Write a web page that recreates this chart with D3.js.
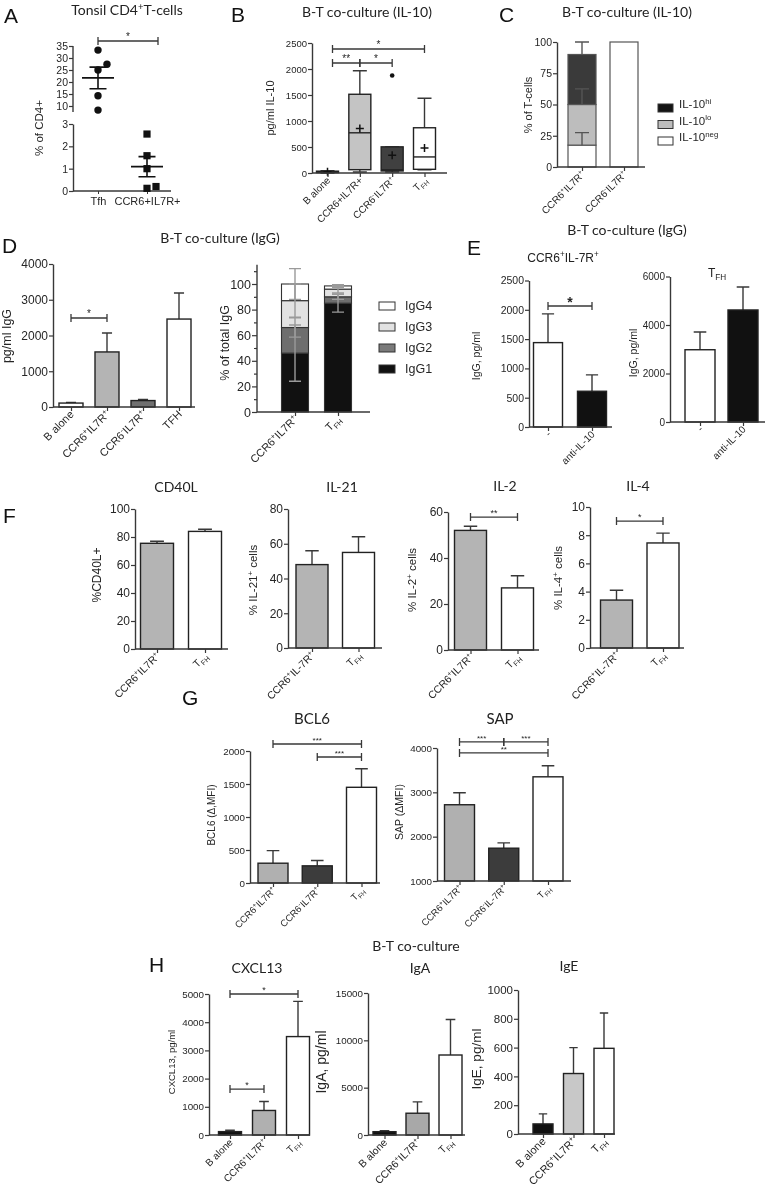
<!DOCTYPE html>
<html><head><meta charset="utf-8">
<script src="https://cdn.jsdelivr.net/npm/d3@7"></script>
<style>
body{margin:0;background:#fff}
svg{display:block;will-change:transform;-webkit-font-smoothing:antialiased}
text{fill:#262626}
</style>
</head><body>
<svg id="chart" width="765" height="1191"></svg>
<script>
// ---------------- DATA ----------------
// Panel A
const aCats = ["Tfh", "CCR6+IL7R+"];
const aTfh = [33.3, 25.0, 27.4, 14.3, 8.3];
const aCCR6 = [2.55, 1.58, 1.0, 0.12, 0.2];
const aMean = [21.7, 1.09];
const aSEM = [4.5, 0.45];
const aUpperTicks = [10, 15, 20, 25, 30, 35];
const aLowerTicks = [0, 1, 2, 3];

// Panel B (box plots, pg/ml IL-10)
const bCats = ["B alone", "CCR6+IL7R+", "CCR6-IL7R+", "TFH"];
const bLabels = ["B alone", "CCR6+IL7R+", "CCR6{^-}IL7R{^+}", "T{_FH}"];
const bMin = [0, 19, 19, 60];
const bQ1 = [8, 64, 39, 71];
const bMedian = [18, 773, 60, 309];
const bQ3 = [35, 1514, 503, 870];
const bMax = [42, 1965, 503, 1437];
const bMean = [22, 857, 341, 483];
const bOutlier = [null, null, 1875, null];
const bTicks = [0, 500, 1000, 1500, 2000, 2500];

// Panel C (stacked %)
const cCats = ["CCR6+IL7R+", "CCR6-IL7R+"];
const cLabels = ["CCR6{^+}IL7R{^+}", "CCR6{^-}IL7R{^+}"];
const cKeys = ["IL-10neg", "IL-10lo", "IL-10hi"];
const cNeg = [17.5, 100];
const cLo = [32.5, 0];
const cHi = [40, 0];
const cErrNeg = [10, 0];
const cErrLo = [12.5, 0];
const cErrHi = [10, 0];
const cTicks = [0, 25, 50, 75, 100];

// Panel D left (pg/ml IgG)
const dCats = ["B alone", "CCR6+IL7R+", "CCR6-IL7R+", "TFH"];
const dLabels = ["B alone", "CCR6{^+}IL7R{^+}", "CCR6{^-}IL7R{^+}", "TFH"];
const dIgG = [110, 1540, 180, 2460];
const dIgGErr = [20, 530, 30, 730];
const dTicks = [0, 1000, 2000, 3000, 4000];

// Panel D right (% of total IgG, stacked)
const dsCats = ["CCR6+IL7R+", "TFH"];
const dsLabels = ["CCR6{^+}IL7R{^+}", "T{_FH}"];
const dsKeys = ["IgG1", "IgG2", "IgG3", "IgG4"];
const dsIgG1 = [46, 85];
const dsIgG2 = [20, 5];
const dsIgG3 = [21, 6];
const dsIgG4 = [13, 2.5];
const dsSd1 = [22, 7];
const dsSd2 = [7.5, 2];
const dsSd3 = [13, 3];
const dsSd4 = [12, 1];

// Panel E
const eCats = ["-", "anti-IL-10"];
const eCCR6 = [1440, 610];
const eCCR6Err = [490, 280];
const eTfh = [2980, 4620];
const eTfhErr = [730, 950];

// Panel F
const fCats = ["CCR6+IL7R+", "TFH"];
const fCD40L = [75.5, 84];
const fCD40LErr = [1.5, 1.5];
const fIL21 = [48, 55];
const fIL21Err = [8, 9];
const fIL2 = [52, 27];
const fIL2Err = [1.8, 5.3];
const fIL4 = [3.4, 7.45];
const fIL4Err = [0.7, 0.7];

// Panel G
const gCats = ["CCR6+IL7R+", "CCR6-IL7R+", "TFH"];
const gBCL6 = [300, 260, 1450];
const gBCL6Err = [190, 80, 280];
const gSAP = [2720, 1740, 3350];
const gSAPErr = [270, 120, 250];

// Panel H
const hCats = ["B alone", "CCR6+IL7R+", "TFH"];
const hLabels = ["B alone", "CCR6{^+}IL7R{^+}", "T{_FH}"];
const hCXCL13 = [120, 870, 3490];
const hCXCL13Err = [50, 320, 1250];
const hIgA = [350, 2300, 8450];
const hIgAErr = [100, 1200, 3750];
const hIgE = [70, 420, 595];
const hIgEErr = [70, 180, 245];

// ---------------- HELPERS ----------------
const svg = d3.select("#chart");
const LINE = "#383838";
const SANS = "'Liberation Sans', Arial, sans-serif";
const TITLE = "Lato, 'Open Sans', sans-serif";

function rich(sel, s, fs) {
  sel.text(null);
  const parts = s.split(/(\{[\^_][^}]*\})/).filter(p => p.length);
  let cur = 0;
  parts.forEach(p => {
    const m = p.match(/^\{([\^_])(.*)\}$/);
    let off = 0, size = fs, txt = p;
    if (m) { off = m[1] === "^" ? -0.38 * fs : 0.28 * fs; size = fs * 0.68; txt = m[2]; }
    sel.append("tspan").attr("dy", off - cur).attr("font-size", size).text(txt);
    cur = off;
  });
}
function letter(x, y, s) {
  svg.append("text").attr("x", x).attr("y", y).attr("font-size", 21)
    .attr("font-family", SANS).style("fill", "#111").text(s);
}
function title(x, y, s, fs = 14, font = TITLE) {
  const t = svg.append("text").attr("x", x).attr("y", y).attr("text-anchor", "middle")
    .attr("dy", "0.35em").attr("font-family", font).attr("font-size", fs).style("fill", "#222");
  rich(t, s, fs);
}
function yLabel(x, y, s, fs) {
  const t = svg.append("text").attr("transform", `translate(${x},${y}) rotate(-90)`)
    .attr("text-anchor", "middle").attr("dy", "0.35em").attr("font-family", SANS).attr("font-size", fs);
  rich(t, s, fs);
}
function yAxis(g, y, ax, ticks, fs, opt = {}) {
  const a = g.append("g").attr("transform", `translate(${ax},0)`)
    .call(d3.axisLeft(y).tickValues(ticks).tickSize(4).tickSizeOuter(0)
      .tickFormat(opt.fmt || d3.format("d")));
  a.attr("font-family", SANS).attr("font-size", fs);
  a.select(".domain").attr("stroke", LINE).attr("stroke-width", 1.4);
  a.selectAll(".tick line").attr("stroke", LINE).attr("stroke-width", 1.2);
  a.selectAll(".tick text").attr("x", -5);
  return a;
}
function xAxis(g, x, ax, axEnd, y0, labels, fs) {
  g.append("line").attr("x1", ax).attr("x2", axEnd).attr("y1", y0).attr("y2", y0)
    .attr("stroke", LINE).attr("stroke-width", 1.4);
  const a = g.append("g").attr("transform", `translate(0,${y0})`)
    .call(d3.axisBottom(x).tickSize(4).tickSizeOuter(0));
  a.attr("font-family", SANS).attr("font-size", fs);
  a.select(".domain").remove();
  a.selectAll(".tick line").attr("stroke", LINE).attr("stroke-width", 1.2);
  a.selectAll(".tick text").each(function (d, i) { rich(d3.select(this), labels[i], fs); })
    .attr("y", 0).attr("dy", "0.35em").attr("text-anchor", "end")
    .attr("transform", "translate(3,8) rotate(-45)");
  return a;
}
function sig(g, x1, x2, yp, txt, fs = 10, bold = false) {
  g.append("path").attr("d", `M${x1},${yp - 4}V${yp + 4}M${x1},${yp}H${x2}M${x2},${yp - 4}V${yp + 4}`)
    .attr("stroke", LINE).attr("stroke-width", 1.3).attr("fill", "none");
  g.append("text").attr("x", (x1 + x2) / 2).attr("y", yp - 1 + (bold ? 2 : 0)).attr("text-anchor", "middle")
    .attr("font-family", SANS).attr("font-size", fs).attr("font-weight", bold ? "bold" : null).text(txt);
}
function errBar(g, cx, top, end, capW, color = LINE) {
  g.append("path").attr("d", `M${cx},${top}V${end}M${cx - capW / 2},${end}H${cx + capW / 2}`)
    .attr("stroke", color).attr("stroke-width", 1.4).attr("fill", "none");
}

function barChart(o) {
  const g = svg.append("g");
  const y = d3.scaleLinear().domain(o.domain).range([o.y0, o.y1]);
  const x = d3.scalePoint().domain(o.cats).range([o.c0, o.cN]);
  const base = y(o.domain[0]);
  const capW = o.bw * 0.42;
  o.values.forEach((d, i) => errBar(g, x(o.cats[i]), y(d), y(d + o.errs[i]), capW));
  g.append("g").selectAll("rect").data(o.values).join("rect")
    .attr("x", (d, i) => x(o.cats[i]) - o.bw / 2).attr("width", o.bw)
    .attr("y", d => y(d)).attr("height", d => base - y(d))
    .attr("fill", (d, i) => o.fills[i]).attr("stroke", "#222").attr("stroke-width", 1.4);
  yAxis(g, y, o.ax, o.ticks, o.tickFs);
  xAxis(g, x, o.ax, o.axEnd, base, o.labels, o.labelFs || 10.5);
  if (o.ylab) yLabel(o.ylabX, o.ylabY, o.ylab, o.ylabFs || 11);
  (o.sigs || []).forEach(s => sig(g, x(o.cats[s[0]]), x(o.cats[s[1]]), y(s[2]), s[3], s[4] || 10, s[5]));
  return { g, x, y };
}

// ---------------- PANEL A ----------------
(function () {
  const g = svg.append("g");
  letter(4, 23, "A");
  title(127, 15, "Tonsil CD4{^+}T-cells", 14);
  const x = d3.scalePoint().domain(aCats).range([98, 147]);
  const yU = d3.scaleLinear().domain([10, 35]).range([106, 46]);
  const yL = d3.scaleLinear().domain([0, 3]).range([191, 124]);
  const scales = [yU, yL];
  const a1 = yAxis(g, yU, 73, aUpperTicks, 10.5);
  a1.select(".domain").remove();
  g.append("line").attr("x1", 73).attr("x2", 73).attr("y1", yU(35)).attr("y2", 112)
    .attr("stroke", LINE).attr("stroke-width", 1.4);
  yAxis(g, yL, 73, aLowerTicks, 10.5);
  g.append("line").attr("x1", 73).attr("x2", 171).attr("y1", 191).attr("y2", 191)
    .attr("stroke", LINE).attr("stroke-width", 1.4);
  const xa = g.append("g").attr("transform", "translate(0,191)")
    .call(d3.axisBottom(x).tickSize(3).tickSizeOuter(0));
  xa.select(".domain").remove();
  xa.attr("font-family", SANS).attr("font-size", 11);
  xa.selectAll(".tick line").attr("stroke", LINE);
  [aTfh, aCCR6].forEach((vals, gi) => {
    const ys = scales[gi];
    const placed = [];
    vals.forEach(v => {
      const py = ys(v);
      const hit = placed.some(p => p.dx === 0 && Math.abs(p.py - py) < 7);
      const dx = hit ? 9 : 0;
      placed.push({ py, dx });
      const cx = x(aCats[gi]) + dx;
      if (gi === 0) g.append("circle").attr("cx", cx).attr("cy", py).attr("r", 3.7).attr("fill", "#111");
      else g.append("rect").attr("x", cx - 3.6).attr("y", py - 3.6).attr("width", 7.2).attr("height", 7.2).attr("fill", "#111");
    });
    const cx = x(aCats[gi]);
    const m = ys(aMean[gi]), hi = ys(aMean[gi] + aSEM[gi]), lo = ys(aMean[gi] - aSEM[gi]);
    g.append("path").attr("d", `M${cx - 16},${m}H${cx + 16}M${cx - 8.5},${hi}H${cx + 8.5}M${cx - 8.5},${lo}H${cx + 8.5}M${cx},${hi}V${lo}`)
      .attr("stroke", "#111").attr("stroke-width", 1.6).attr("fill", "none");
  });
  sig(g, x(aCats[0]), x(aCats[1]) + 11, 41, "*", 10);
  yLabel(43, 128, "% of CD4+", 11.5);
})();

// ---------------- PANEL B ----------------
(function () {
  const g = svg.append("g");
  letter(231, 22, "B");
  title(367, 17, "B-T co-culture (IL-10)", 14);
  const y = d3.scaleLinear().domain([0, 2500]).range([173, 43]);
  const x = d3.scalePoint().domain(bCats).range([327.5, 424.5]);
  const bw = 22, cap = 14;
  const bFills = ["#fff", "#c4c4c4", "#404040", "#fff"];
  bCats.forEach((c, i) => {
    const cx = x(c);
    g.append("path").attr("d", `M${cx},${y(bQ3[i])}V${y(bMax[i])}M${cx - cap / 2},${y(bMax[i])}H${cx + cap / 2}` +
      `M${cx},${y(bQ1[i])}V${y(bMin[i])}M${cx - cap / 2},${y(bMin[i])}H${cx + cap / 2}`)
      .attr("stroke", LINE).attr("stroke-width", 1.4).attr("fill", "none");
    g.append("rect").attr("x", cx - bw / 2).attr("width", bw).attr("y", y(bQ3[i]))
      .attr("height", y(bQ1[i]) - y(bQ3[i])).attr("fill", bFills[i]).attr("stroke", "#222").attr("stroke-width", 1.4);
    g.append("line").attr("x1", cx - bw / 2).attr("x2", cx + bw / 2).attr("y1", y(bMedian[i])).attr("y2", y(bMedian[i]))
      .attr("stroke", "#222").attr("stroke-width", 1.4);
    const my = y(bMean[i]);
    g.append("path").attr("d", `M${cx - 4},${my}H${cx + 4}M${cx},${my - 4}V${my + 4}`)
      .attr("stroke", "#111").attr("stroke-width", 1.5);
    if (bOutlier[i] != null) g.append("circle").attr("cx", cx).attr("cy", y(bOutlier[i])).attr("r", 2.3).attr("fill", "#111");
  });
  yAxis(g, y, 312, bTicks, 9.5);
  xAxis(g, x, 312, 447, 173, bLabels, 10);
  yLabel(274, 108, "pg/ml IL-10", 11);
  sig(g, x(bCats[0]) + 5, x(bCats[3]), y(2385), "*", 10);
  sig(g, x(bCats[0]) + 5, x(bCats[1]), y(2115), "**", 10);
  sig(g, x(bCats[1]), x(bCats[2]), y(2115), "*", 10);
})();

// ---------------- PANEL C ----------------
(function () {
  const g = svg.append("g");
  letter(499, 22, "C");
  title(627, 17, "B-T co-culture (IL-10)", 14);
  const y = d3.scaleLinear().domain([0, 100]).range([167, 42]);
  const x = d3.scalePoint().domain(cCats).range([582, 624]);
  const bw = 28;
  const table = cCats.map((c, i) => ({ cat: c, "IL-10neg": cNeg[i], "IL-10lo": cLo[i], "IL-10hi": cHi[i] }));
  const errs = { "IL-10neg": cErrNeg, "IL-10lo": cErrLo, "IL-10hi": cErrHi };
  const fills = { "IL-10neg": "#fff", "IL-10lo": "#bdbdbd", "IL-10hi": "#3a3a3a" };
  const stack = d3.stack().keys(cKeys)(table);
  stack.forEach(layer => {
    g.append("g").selectAll("rect").data(layer.filter(d => d[1] - d[0] > 0)).join("rect")
      .attr("x", d => x(d.data.cat) - bw / 2).attr("width", bw)
      .attr("y", d => y(d[1])).attr("height", d => y(d[0]) - y(d[1]))
      .attr("fill", fills[layer.key]).attr("stroke", "#555").attr("stroke-width", 1.2);
  });
  stack.forEach(layer => {
    layer.forEach((d, i) => {
      if (d[1] - d[0] <= 0 || errs[layer.key][i] === 0) return;
      errBar(g, x(cCats[i]), y(d[1]), y(d[1] + errs[layer.key][i]), 14, "#555");
    });
  });
  yAxis(g, y, 557, cTicks, 10.5);
  xAxis(g, x, 557, 645, 167, cLabels, 10);
  yLabel(532, 105, "% of T-cells", 11);
  const leg = [["IL-10{^hi}", "#141414"], ["IL-10{^lo}", "#bdbdbd"], ["IL-10{^neg}", "#fff"]];
  leg.forEach((l, i) => {
    const ly = 108 + i * 16.5;
    g.append("rect").attr("x", 658).attr("y", ly - 4).attr("width", 15).attr("height", 8)
      .attr("fill", l[1]).attr("stroke", "#333").attr("stroke-width", 1);
    const t = g.append("text").attr("x", 679).attr("y", ly).attr("dy", "0.35em")
      .attr("font-family", SANS).attr("font-size", 11.5);
    rich(t, l[0], 11.5);
  });
})();

// ---------------- PANEL D ----------------
letter(2, 253, "D");
title(220, 243, "B-T co-culture (IgG)", 14);
barChart({
  cats: dCats, labels: dLabels, values: dIgG, errs: dIgGErr,
  fills: ["#fff", "#b4b4b4", "#707070", "#fff"],
  domain: [0, 4000], ticks: dTicks, ax: 53, axEnd: 195, y0: 407, y1: 264,
  c0: 71, cN: 179, bw: 24, tickFs: 12, labelFs: 11,
  ylab: "pg/ml IgG", ylabX: 11, ylabY: 336, ylabFs: 12.5,
  sigs: [[0, 1, 2490, "*", 10]]
});
(function () {
  const g = svg.append("g");
  const y = d3.scaleLinear().domain([0, 100]).range([412, 284]);
  const x = d3.scalePoint().domain(dsCats).range([295, 338]);
  const bw = 27;
  const table = dsCats.map((c, i) => ({ cat: c, IgG1: dsIgG1[i], IgG2: dsIgG2[i], IgG3: dsIgG3[i], IgG4: dsIgG4[i] }));
  const sds = { IgG1: dsSd1, IgG2: dsSd2, IgG3: dsSd3, IgG4: dsSd4 };
  const fills = { IgG1: "#111", IgG2: "#6e6e6e", IgG3: "#e2e2e2", IgG4: "#fff" };
  const stack = d3.stack().keys(dsKeys)(table);
  stack.forEach(layer => {
    g.append("g").selectAll("rect").data(layer).join("rect")
      .attr("x", d => x(d.data.cat) - bw / 2).attr("width", bw)
      .attr("y", d => y(d[1])).attr("height", d => y(d[0]) - y(d[1]))
      .attr("fill", fills[layer.key]).attr("stroke", "#333").attr("stroke-width", 1.1);
  });
  stack.forEach(layer => {
    layer.forEach((d, i) => {
      const cx = x(dsCats[i]), s = sds[layer.key][i];
      g.append("path").attr("d", `M${cx},${y(d[1] - s)}V${y(d[1] + s)}M${cx - 6},${y(d[1] - s)}H${cx + 6}M${cx - 6},${y(d[1] + s)}H${cx + 6}`)
        .attr("stroke", "#9a9a9a").attr("stroke-width", 1.4).attr("fill", "none");
    });
  });
  const minor = d3.range(0, 111, 10);
  const a = g.append("g").attr("transform", "translate(257,0)")
    .call(d3.axisLeft(y).tickValues(minor).tickSizeOuter(0)
      .tickFormat(d => d % 20 === 0 && d <= 100 ? d : ""));
  a.attr("font-family", SANS).attr("font-size", 12.5);
  a.select(".domain").remove();
  a.selectAll(".tick line").attr("stroke", LINE).attr("stroke-width", 1.2).attr("x2", d => d % 20 === 0 ? -5 : -3);
  a.selectAll(".tick text").attr("x", -6);
  g.append("line").attr("x1", 257).attr("x2", 257).attr("y1", y(0)).attr("y2", y(115))
    .attr("stroke", LINE).attr("stroke-width", 1.4);
  xAxis(g, x, 257, 370, 412, dsLabels, 11);
  yLabel(229, 343, "% of total IgG", 12.5);
  const leg = [["IgG4", "#fff"], ["IgG3", "#e2e2e2"], ["IgG2", "#7a7a7a"], ["IgG1", "#111"]];
  leg.forEach((l, i) => {
    const ly = 306 + i * 21;
    g.append("rect").attr("x", 379).attr("y", ly - 4).attr("width", 16).attr("height", 8)
      .attr("fill", l[1]).attr("stroke", "#333").attr("stroke-width", 1);
    g.append("text").attr("x", 405).attr("y", ly).attr("dy", "0.35em")
      .attr("font-family", SANS).attr("font-size", 12.5).text(l[0]);
  });
})();

// ---------------- PANEL E ----------------
letter(467, 255, "E");
title(627, 235, "B-T co-culture (IgG)", 14);
title(563, 262, "CCR6{^+}IL-7R{^+}", 12, SANS);
title(717, 277, "T{_FH}", 12, SANS);
barChart({
  cats: eCats, labels: ["-", "anti-IL-10"], values: eCCR6, errs: eCCR6Err,
  fills: ["#fff", "#111"], domain: [0, 2500], ticks: [0, 500, 1000, 1500, 2000, 2500],
  ax: 529, axEnd: 612, y0: 427, y1: 280.5, c0: 548, cN: 592, bw: 29, tickFs: 10.5, labelFs: 10,
  ylab: "IgG, pg/ml", ylabX: 480, ylabY: 356, ylabFs: 10.5,
  sigs: [[0, 1, 2065, "*", 14, true]]
});
barChart({
  cats: eCats, labels: ["-", "anti-IL-10"], values: eTfh, errs: eTfhErr,
  fills: ["#fff", "#111"], domain: [0, 6000], ticks: [0, 2000, 4000, 6000],
  ax: 670, axEnd: 765, y0: 422, y1: 276.5, c0: 700, cN: 743, bw: 30, tickFs: 10, labelFs: 10,
  ylab: "IgG, pg/ml", ylabX: 637, ylabY: 353, ylabFs: 10.5
});

// ---------------- PANEL F ----------------
letter(3, 523, "F");
title(176, 492, "CD40L", 14);
title(342, 492, "IL-21", 14);
title(505, 491, "IL-2", 14);
title(638, 491, "IL-4", 14);
const fFills = ["#b4b4b4", "#fff"];
barChart({
  cats: fCats, labels: ["CCR6{^+}IL7R{^+}", "T{_FH}"], values: fCD40L, errs: fCD40LErr, fills: fFills,
  domain: [0, 100], ticks: [0, 20, 40, 60, 80, 100], ax: 135, axEnd: 228, y0: 649, y1: 509,
  c0: 157, cN: 205, bw: 33, tickFs: 12, labelFs: 10.5,
  ylab: "%CD40L+", ylabX: 101, ylabY: 575, ylabFs: 12
});
barChart({
  cats: fCats, labels: ["CCR6{^+}IL-7R{^+}", "T{_FH}"], values: fIL21, errs: fIL21Err, fills: fFills,
  domain: [0, 80], ticks: [0, 20, 40, 60, 80], ax: 288, axEnd: 382, y0: 648, y1: 509,
  c0: 312, cN: 358.5, bw: 32, tickFs: 12, labelFs: 10.5,
  ylab: "% IL-21{^+} cells", ylabX: 257, ylabY: 580, ylabFs: 11.5
});
barChart({
  cats: fCats, labels: ["CCR6{^+}IL7R{^+}", "T{_FH}"], values: fIL2, errs: fIL2Err, fills: fFills,
  domain: [0, 60], ticks: [0, 20, 40, 60], ax: 448, axEnd: 539, y0: 650, y1: 512,
  c0: 470.5, cN: 517.5, bw: 32, tickFs: 12, labelFs: 10.5,
  ylab: "% IL-2{^+} cells", ylabX: 416, ylabY: 580, ylabFs: 11.5,
  sigs: [[0, 1, 57.8, "**", 9]]
});
barChart({
  cats: fCats, labels: ["CCR6{^+}IL-7R{^+}", "T{_FH}"], values: fIL4, errs: fIL4Err, fills: fFills,
  domain: [0, 10], ticks: [0, 2, 4, 6, 8, 10], ax: 590, axEnd: 684, y0: 648, y1: 507,
  c0: 616.5, cN: 663, bw: 32, tickFs: 12, labelFs: 10.5,
  ylab: "% IL-4{^+} cells", ylabX: 562, ylabY: 578, ylabFs: 11.5,
  sigs: [[0, 1, 9.0, "*", 9]]
});

// ---------------- PANEL G ----------------
letter(182, 705, "G");
title(312, 724, "BCL6", 15);
title(500, 724, "SAP", 15);
const gFills = ["#b0b0b0", "#3c3c3c", "#fff"];
barChart({
  cats: gCats, labels: ["CCR6{^+}IL7R{^+}", "CCR6{^-}IL7R{^+}", "T{_FH}"], values: gBCL6, errs: gBCL6Err, fills: gFills,
  domain: [0, 2000], ticks: [0, 500, 1000, 1500, 2000], ax: 250, axEnd: 380, y0: 883, y1: 751,
  c0: 273, cN: 361.5, bw: 30, tickFs: 9.8, labelFs: 9.5,
  ylab: "BCL6 (\u0394,MFI)", ylabX: 215, ylabY: 815, ylabFs: 10,
  sigs: [[0, 2, 2106, "***", 8], [1, 2, 1909, "***", 8]]
});
barChart({
  cats: gCats, labels: ["CCR6{^+}IL7R{^+}", "CCR6{^-}IL-7R{^+}", "T{_FH}"], values: gSAP, errs: gSAPErr, fills: gFills,
  domain: [1000, 4000], ticks: [1000, 2000, 3000, 4000], ax: 437, axEnd: 571, y0: 881, y1: 748,
  c0: 459.5, cN: 548, bw: 30, tickFs: 9.8, labelFs: 9.5,
  ylab: "SAP (\u0394MFI)", ylabX: 403, ylabY: 812, ylabFs: 10.5,
  sigs: [[0, 1, 4138, "***", 8], [1, 2, 4138, "***", 8], [0, 2, 3890, "**", 8]]
});

// ---------------- PANEL H ----------------
letter(149, 972, "H");
title(416, 951, "B-T co-culture", 14);
title(257, 973, "CXCL13", 14);
title(420, 973, "IgA", 14);
title(569, 971, "IgE", 14);
barChart({
  cats: hCats, labels: hLabels, values: hCXCL13, errs: hCXCL13Err, fills: ["#111", "#b0b0b0", "#fff"],
  domain: [0, 5000], ticks: [0, 1000, 2000, 3000, 4000, 5000], ax: 209, axEnd: 310, y0: 1135, y1: 994,
  c0: 230, cN: 298, bw: 23, tickFs: 9.8, labelFs: 10,
  ylab: "CXCL13, pg/ml", ylabX: 175, ylabY: 1062, ylabFs: 9.5,
  sigs: [[0, 2, 5000, "*", 9], [0, 1, 1630, "*", 9]]
});
barChart({
  cats: hCats, labels: hLabels, values: hIgA, errs: hIgAErr, fills: ["#111", "#a8a8a8", "#fff"],
  domain: [0, 15000], ticks: [0, 5000, 10000, 15000], ax: 368, axEnd: 465, y0: 1135, y1: 993,
  c0: 384.5, cN: 450.5, bw: 23, tickFs: 9.8, labelFs: 10.5,
  ylab: "IgA, pg/ml", ylabX: 326, ylabY: 1062, ylabFs: 14
});
barChart({
  cats: hCats, labels: hLabels, values: hIgE, errs: hIgEErr, fills: ["#111", "#c8c8c8", "#fff"],
  domain: [0, 1000], ticks: [0, 200, 400, 600, 800, 1000], ax: 518, axEnd: 615, y0: 1134, y1: 990,
  c0: 543, cN: 604, bw: 20, tickFs: 11.5, labelFs: 11,
  ylab: "IgE, pg/ml", ylabX: 481, ylabY: 1059, ylabFs: 13.5
});
</script>
</body></html>
